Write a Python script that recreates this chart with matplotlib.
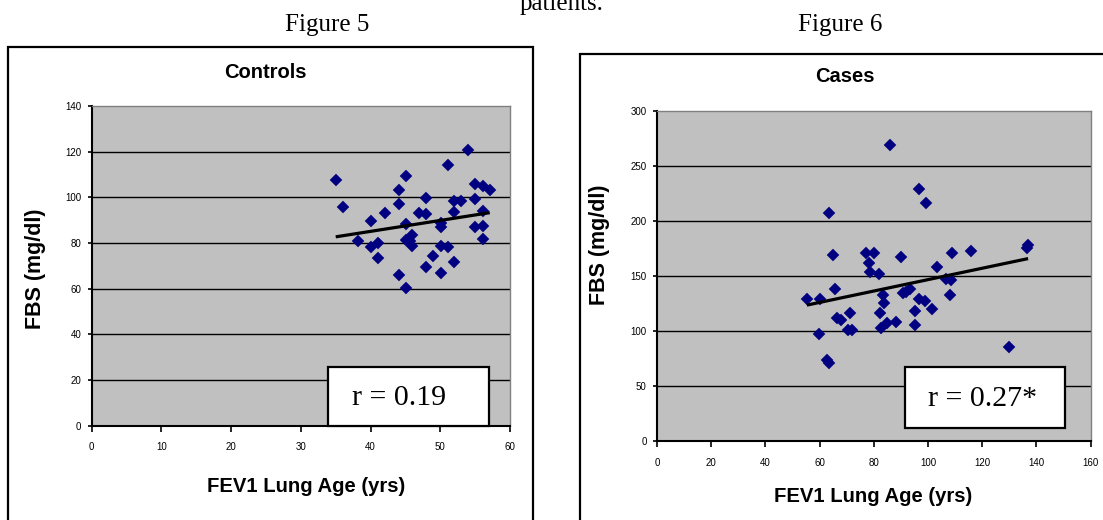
import numpy as np
import matplotlib
matplotlib.use("Agg")
import matplotlib.pyplot as plt
from matplotlib.patches import Rectangle

W, H = 1103, 520
DPI = 100

# ---------------- data ----------------
ctrl_age = [35.0, 36.1, 38.2, 40.0, 40.0, 41.0, 41.0, 42.0, 44.1, 44.1,
            44.1, 45.1, 45.1, 45.1, 45.1, 46.0, 46.0, 45.6, 47.0, 48.0,
            48.0, 48.0, 49.0, 50.1, 50.1, 50.1, 50.1, 51.1, 51.1, 51.9,
            51.9, 51.9, 53.0, 54.0, 55.0, 55.0, 55.0, 56.1, 56.1, 56.1,
            56.1, 57.1]
ctrl_fbs = [107.4, 95.8, 80.9, 89.5, 78.1, 80.0, 73.4, 93.2, 103.0, 96.9,
            65.9, 109.3, 88.5, 81.2, 60.2, 83.7, 78.5, 80.7, 93.2, 99.5,
            92.8, 69.7, 74.4, 88.8, 87.0, 78.5, 66.8, 114.2, 78.1, 98.3,
            93.5, 71.5, 98.6, 120.6, 105.9, 99.1, 86.9, 104.9, 93.9, 87.6,
            81.8, 103.0]

case_age = [55.3, 60.0, 59.6, 63.4, 63.3, 62.9, 64.9, 65.5, 66.4, 67.9,
            71.1, 70.3, 72.1, 77.2, 78.1, 78.7, 80.2, 82.0, 83.4, 83.9,
            82.2, 82.7, 84.9, 85.9, 88.3, 90.2, 90.8, 92.0, 93.5, 95.1,
            95.1, 96.7, 96.7, 98.8, 99.4, 101.5, 103.4, 106.8, 108.6, 108.2,
            108.8, 115.7, 129.9, 136.9, 136.6]
case_fbs = [128.8, 128.8, 97.9, 207.1, 71.2, 73.9, 169.0, 137.9, 112.4, 110.6,
            116.6, 101.5, 101.5, 170.6, 161.5, 153.9, 170.6, 152.4, 132.7, 125.2,
            116.1, 102.5, 107.0, 269.2, 108.5, 167.0, 134.3, 136.0, 137.9, 118.2,
            105.4, 228.9, 129.0, 127.5, 216.2, 119.9, 158.6, 147.4, 146.5, 132.6,
            170.8, 172.9, 85.4, 178.0, 175.6]

ctrl_xticks = [0, 10, 20, 30, 40, 50, 60]
ctrl_yticks = [0, 20, 40, 60, 80, 100, 120, 140]
case_xticks = [0, 20, 40, 60, 80, 100, 120, 140, 160]
case_yticks = [0, 50, 100, 150, 200, 250, 300]

ctrl_r = "r = 0.19"
case_r = "r = 0.27*"

# ---------------- helpers ----------------
SANS = ["Liberation Sans", "DejaVu Sans"]
SERIF = ["Liberation Serif", "DejaVu Serif"]
NAVY = "#000080"
PLOT_BG = "#C0C0C0"


def fx(px):
    return px / W


def fy(py):
    return 1 - py / H


fig = plt.figure(figsize=(W / DPI, H / DPI), dpi=DPI)
fig.patch.set_facecolor("white")


def panel(rect_px, xs, ys, xticks, yticks, rtxt, box_axes, rtxt_pos):
    x0, y0, x1, y1 = rect_px
    ax = fig.add_axes([fx(x0), fy(y1), (x1 - x0) / W, (y1 - y0) / H])
    ax.set_facecolor(PLOT_BG)
    ax.set_xlim(xticks[0], xticks[-1])
    ax.set_ylim(yticks[0], yticks[-1])
    ax.set_xticks(xticks)
    ax.set_yticks(yticks)
    ax.set_xticklabels([str(t) for t in xticks], family=SANS, fontsize=7)
    ax.set_yticklabels([str(t) for t in yticks], family=SANS, fontsize=7)
    ax.tick_params(axis="x", direction="out", length=4, width=1.2, pad=8, colors="black")
    ax.tick_params(axis="y", direction="out", length=3, width=1.2, pad=4.5, colors="black")
    for t in yticks[1:-1]:
        ax.axhline(t, color="black", lw=1.0, zorder=1)
    for s in ("left", "bottom"):
        ax.spines[s].set_color("black")
        ax.spines[s].set_linewidth(1.5)
    for s in ("top", "right"):
        ax.spines[s].set_color("#808080")
        ax.spines[s].set_linewidth(1.0)
    ax.plot(xs, ys, linestyle="none", marker="D", markersize=6.6,
            markerfacecolor=NAVY, markeredgecolor=NAVY, markeredgewidth=0.3,
            zorder=3, clip_on=False)
    # linear trend line computed from data
    xa = np.asarray(xs, float)
    ya = np.asarray(ys, float)
    k, b = np.polyfit(xa, ya, 1)
    xl = np.array([xa.min(), xa.max()])
    ax.plot(xl, k * xl + b, color="black", lw=2.3, zorder=4, solid_capstyle="butt")
    # r text box
    bx0, by0, bx1, by1 = box_axes
    ax.add_patch(Rectangle((bx0, by0), bx1 - bx0, by1 - by0, transform=ax.transAxes,
                           facecolor="white", edgecolor="black", lw=1.6, zorder=5,
                           clip_on=False))
    fig.text(fx(rtxt_pos[0]), fy(rtxt_pos[1]), rtxt, family=SERIF, fontsize=21.5,
             ha="center", va="center", zorder=6)
    return ax


# outer frames
fig.add_artist(Rectangle((fx(8), fy(540)), (533 - 8) / W, (540 - 47) / H,
                         transform=fig.transFigure, fill=False, edgecolor="black", lw=1.6))
fig.add_artist(Rectangle((fx(580), fy(540)), (1130 - 580) / W, (540 - 54) / H,
                         transform=fig.transFigure, fill=False, edgecolor="black", lw=1.6))

# panels
panel((91.7, 106, 510, 425.7), ctrl_age, ctrl_fbs, ctrl_xticks, ctrl_yticks,
      ctrl_r, (0.5655, 0.0, 0.9498, 0.1845), (399, 398))
panel((657, 111, 1090.7, 441.3), case_age, case_fbs, case_xticks, case_yticks,
      case_r, (0.5718, 0.039, 0.9407, 0.2259), (983, 399))

# panel titles and labels
fig.text(fx(265), fy(73), "Controls", family=SANS, weight="bold", fontsize=14.5,
         ha="center", va="center")
fig.text(fx(845), fy(77), "Cases", family=SANS, weight="bold", fontsize=14.5,
         ha="center", va="center")
fig.text(fx(36), fy(269), "FBS (mg/dl)", family=SANS, weight="bold", fontsize=15.5,
         ha="center", va="center", rotation=90)
fig.text(fx(600), fy(245), "FBS (mg/dl)", family=SANS, weight="bold", fontsize=15.5,
         ha="center", va="center", rotation=90)
fig.text(fx(306), fy(487), "FEV1 Lung Age (yrs)", family=SANS, weight="bold",
         fontsize=14.6, ha="center", va="center")
fig.text(fx(873), fy(496), "FEV1 Lung Age (yrs)", family=SANS, weight="bold",
         fontsize=14.6, ha="center", va="center")

# figure captions
fig.text(fx(327), fy(31.5), "Figure 5", family=SERIF, fontsize=18, ha="center",
         va="baseline")
fig.text(fx(840), fy(31.5), "Figure 6", family=SERIF, fontsize=18, ha="center",
         va="baseline")
fig.text(fx(562), fy(10), "patients.", family=SERIF, fontsize=18, ha="center",
         va="baseline")

fig.savefig("out.png", dpi=DPI)
